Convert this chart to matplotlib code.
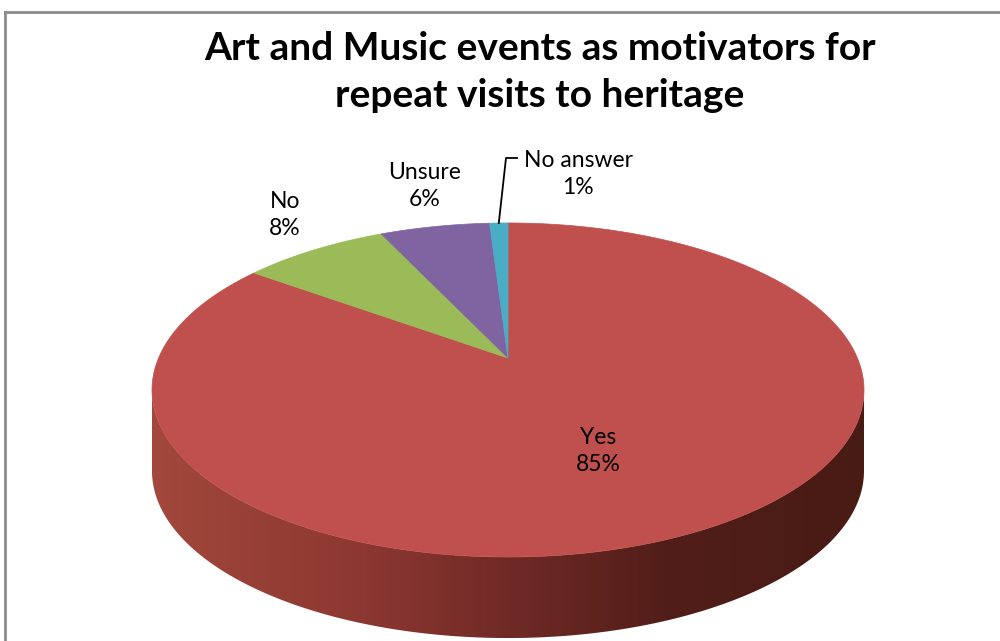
import numpy as np
import matplotlib.pyplot as plt
from matplotlib.patches import Polygon
from matplotlib.lines import Line2D

categories = ['Yes', 'No', 'Unsure', 'No answer']
shares = [85, 8, 6, 1]
slice_colors = ['#C0504D', '#9BBB59', '#8064A2', '#4BACC6']
chart_title = 'Art and Music events as motivators for\nrepeat visits to heritage'

# label anchor points (pixels) for each category
label_pos = [(598, 451), (285, 215), (425, 186), (578, 174)]

# 3-D pie geometry, pixel space, perspective squeeze E
CX, CY = 508, 358
A, B, E = 349.4, 160.9, 0.1916
DEPTH = 81

# side shading, left -> right across the front wall
side_stops = [0.0, 0.3, 0.5, 0.72, 1.0]
side_rgb = [(162, 72, 60), (140, 55, 49), (112, 42, 38), (82, 30, 25), (72, 27, 20)]


def project(phi):
    """phi in degrees, clockwise from the far point of the pie."""
    r = np.radians(phi)
    u, v = np.sin(r), -np.cos(r)
    w = 1 - E * v
    return CX + A * u / w, CY + B * v / w


fig = plt.figure(figsize=(10, 6.41), dpi=100)
ax = fig.add_axes([0, 0, 1, 1])
ax.set_xlim(0, 1000)
ax.set_ylim(641, 0)
ax.axis('off')

# front wall (only the Yes slice reaches the near side)
sil = np.degrees(np.arccos(-E))          # silhouette angle
phis = np.linspace(sil, 360 - sil, 300)
top_edge = [project(p) for p in phis]
wall = top_edge + [(x, y + DEPTH) for x, y in reversed(top_edge)]
wall_patch = Polygon(wall, closed=True, facecolor='none', edgecolor='none')
ax.add_patch(wall_patch)

xl, _ = project(360 - sil)
xr, _ = project(sil)
ts = np.linspace(0, 1, 400)
grad = np.stack([np.interp(ts, side_stops, [c[i] for c in side_rgb]) / 255
                 for i in range(3)], axis=-1)[None, :, :]
ymin = min(y for _, y in wall)
ymax = max(y for _, y in wall)
img = ax.imshow(grad, extent=[xl, xr, ymax, ymin], aspect='auto',
                interpolation='bilinear', zorder=1)
img.set_clip_path(wall_patch)

# top faces
start = 0.0
total = sum(shares)
for val, col in zip(shares, slice_colors):
    span = 360.0 * val / total
    arc = np.linspace(start, start + span, max(int(span * 2), 4))
    pts = [(CX, CY)] + [project(p) for p in arc]
    ax.add_patch(Polygon(pts, closed=True, facecolor=col, edgecolor=col,
                         linewidth=0.5, zorder=2))
    start += span

# data labels
lab_font = dict(family=['Lato', 'DejaVu Sans'], fontsize=16.5, color='#000000')
for name, val, (lx, ly) in zip(categories, shares, label_pos):
    ax.text(lx, ly, f'{name}\n{val}%', ha='center', va='center',
            linespacing=1.35, zorder=4, **lab_font)

# leader line for the thin slice
cyan_mid = 360.0 * (total - shares[-1] / 2) / total
sx, sy = project(cyan_mid)
ax.plot([sx, 506, 517], [sy, 158, 158], color='black', linewidth=1.3, zorder=3)

ax.text(540, 72, chart_title, ha='center', va='center', fontsize=28,
        fontweight='bold', family=['Lato', 'DejaVu Sans'], linespacing=1.4)

# chart area frame
fig.add_artist(Line2D([5 / 1000, 5 / 1000], [0, 1 - 12 / 641], color='#8C8C8C', linewidth=2))
fig.add_artist(Line2D([5 / 1000, 1], [1 - 12 / 641, 1 - 12 / 641], color='#8C8C8C', linewidth=2))

fig.savefig('out.png', dpi=100, facecolor='white')
